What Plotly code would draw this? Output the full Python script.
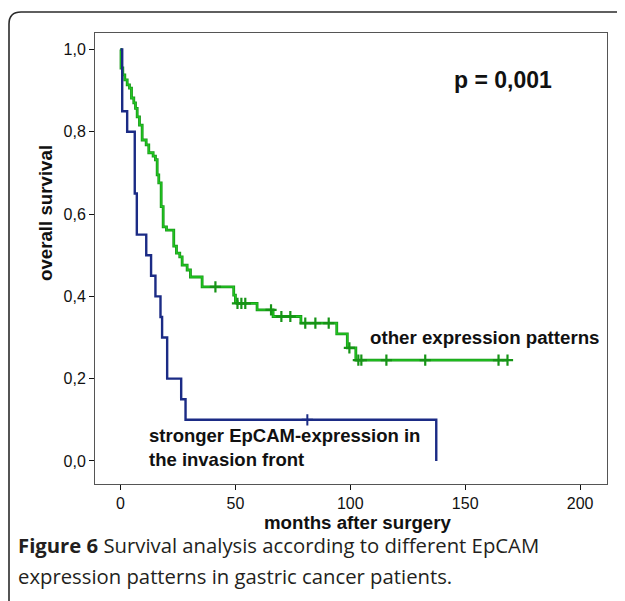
import plotly.graph_objects as go

# ---- data ----
blue_t = [0, 0.74, 2.9, 6.2, 7.1, 11.2, 13.3, 15.2, 17.4, 18.1, 20.3, 26.4, 28.3, 137.4]
blue_s = [1.0, 0.85, 0.80, 0.65, 0.55, 0.50, 0.45, 0.40, 0.35, 0.30, 0.20, 0.15, 0.10, 0.0]
blue_cens_t = [81.3]

green_t = [0, 0.22, 1.0, 1.87, 2.91, 3.91, 4.78, 5.78, 6.52, 7.26, 8.26, 9.43, 11.17, 12.3,
           14.2, 15.2, 15.96, 16.65, 17.7, 18.57, 20.0, 23.17, 24.35, 25.78, 26.83, 29.0,
           30.43, 35.52, 49.26, 50.0, 50.74, 59.43, 66.4, 78.5, 94.1, 98.7, 102.4, 168.4]
green_s = [1.0, 0.955, 0.938, 0.926, 0.914, 0.906, 0.882, 0.870, 0.857, 0.836, 0.816, 0.780,
           0.768, 0.749, 0.741, 0.732, 0.695, 0.676, 0.618, 0.569, 0.561, 0.522, 0.505, 0.496,
           0.476, 0.464, 0.447, 0.423, 0.403, 0.387, 0.383, 0.367, 0.351, 0.335, 0.309, 0.275,
           0.245, 0.245]
green_cens_t = [41.3, 50.9, 52.6, 54.3, 65.5, 70.0, 73.9, 80.4, 84.8, 90.6, 99.6, 103.5,
                104.8, 115.7, 132.6, 164.5, 168.4]

x_tickvals = [0, 50, 100, 150, 200]
x_ticktext = ["0", "50", "100", "150", "200"]
y_tickvals = [0.0, 0.2, 0.4, 0.6, 0.8, 1.0]
y_ticktext = ["0,0", "0,2", "0,4", "0,6", "0,8", "1,0"]

label_green = "other expression patterns"
label_blue = "stronger EpCAM-expression in<br>the invasion front"
p_text = "p = 0,001"
x_title = "months after surgery"
y_title = "overall survival"
caption1 = "<b>Figure 6</b> Survival analysis according to different EpCAM"
caption2 = "expression patterns in gastric cancer patients."


def step_value(ts, ss, c):
    v = ss[0]
    for t, s in zip(ts, ss):
        if t <= c:
            v = s
    return v


green_cens_s = [step_value(green_t, green_s, c) for c in green_cens_t]
blue_cens_s = [step_value(blue_t, blue_s, c) for c in blue_cens_t]

GREEN_DARK = "#169416"
GREEN = "#22c822"
BLUE = "#1b2b85"

fig = go.Figure()
fig.add_trace(go.Scatter(x=green_t, y=green_s, mode="lines", line=dict(shape="hv", color=GREEN_DARK, width=2.8),
                         hoverinfo="skip", showlegend=False))
fig.add_trace(go.Scatter(x=green_t, y=green_s, mode="lines", line=dict(shape="hv", color=GREEN, width=1.3),
                         showlegend=False))
fig.add_trace(go.Scatter(x=green_cens_t, y=green_cens_s, mode="markers",
                         marker=dict(symbol="cross-thin", size=8, line=dict(color=GREEN_DARK, width=2.2)),
                         showlegend=False))
fig.add_trace(go.Scatter(x=blue_t, y=blue_s, mode="lines", line=dict(shape="hv", color=BLUE, width=2.4),
                         showlegend=False))
fig.add_trace(go.Scatter(x=blue_cens_t, y=blue_cens_s, mode="markers",
                         marker=dict(symbol="cross-thin", size=8, line=dict(color=BLUE, width=2)),
                         showlegend=False))


def py(pix):
    # pixel row on the page -> paper y (plot box spans rows 33..484)
    return (484 - pix) / 451


def px(pix):
    # pixel column on the page -> paper x (plot box spans columns 95..607)
    return (pix - 95) / 512


FONT = "Liberation Sans, Arial, sans-serif"
annotations = [
    dict(x=166.5, y=0.926, xref="x", yref="y", text="<b>" + p_text + "</b>", showarrow=False,
         font=dict(family=FONT, size=23, color="#111"), xanchor="center", yanchor="middle"),
    dict(x=107.8, y=0.301, xref="x", yref="y", text="<b>" + label_green + "</b>", showarrow=False,
         font=dict(family=FONT, size=18.7, color="#111"), xanchor="left", yanchor="middle"),
    dict(x=11.7, y=0.032, xref="x", yref="y", text="<b>" + label_blue.replace("<br>", "</b><br><b>") + "</b>",
         showarrow=False, align="left",
         font=dict(family=FONT, size=18.5, color="#111"), xanchor="left", yanchor="middle"),
    dict(x=px(358), y=py(522), xref="paper", yref="paper", text="<b>" + x_title + "</b>", showarrow=False,
         font=dict(family=FONT, size=18.7, color="#111"), xanchor="center", yanchor="middle"),
    dict(x=px(45), y=py(213), xref="paper", yref="paper", text="<b>" + y_title + "</b>", showarrow=False,
         textangle=-90, font=dict(family=FONT, size=18.7, color="#111"), xanchor="center", yanchor="middle"),
    dict(x=px(16), y=py(545), xref="paper", yref="paper", text=caption1, showarrow=False,
         font=dict(family="Open Sans, sans-serif", size=20.3, color="#231f20"), xanchor="left", yanchor="middle"),
    dict(x=px(16), y=py(576), xref="paper", yref="paper", text=caption2, showarrow=False,
         font=dict(family="Open Sans, sans-serif", size=20.3, color="#231f20"), xanchor="left", yanchor="middle"),
]

xl, xr = px(9), px(640)
yt, yb = py(12), py(610)
rx, ry = 12 / 512, 12 / 451
outer = dict(type="path", xref="paper", yref="paper",
             path=f"M {xl},{yb} L {xl},{yt - ry} Q {xl},{yt} {xl + rx},{yt} L {xr},{yt}",
             line=dict(color="#2b2b2b", width=1.6))

# the page body adds an 8px offset, so margins are shifted to keep the plot box at x 95-607, y 33-484
fig.update_layout(
    width=625, height=601,
    margin=dict(l=87, r=26, t=25, b=125),
    paper_bgcolor="white", plot_bgcolor="white",
    annotations=annotations, shapes=[outer],
    showlegend=False,
)
fig.update_xaxes(range=[-11.1, 211.7], tickvals=x_tickvals, ticktext=x_ticktext,
                 showgrid=False, zeroline=False, showline=True, mirror=True, linecolor="#555", linewidth=1,
                 ticks="outside", ticklen=5, tickcolor="#111", tickwidth=1,
                 tickfont=dict(family=FONT, size=16, color="#111"))
fig.update_yaxes(range=[-0.056, 1.040], tickvals=y_tickvals, ticktext=y_ticktext,
                 showgrid=False, zeroline=False, showline=True, mirror=True, linecolor="#555", linewidth=1,
                 ticks="outside", ticklen=5, tickcolor="#111", tickwidth=1,
                 tickfont=dict(family=FONT, size=16, color="#111"))

fig.write_html("out.html")
